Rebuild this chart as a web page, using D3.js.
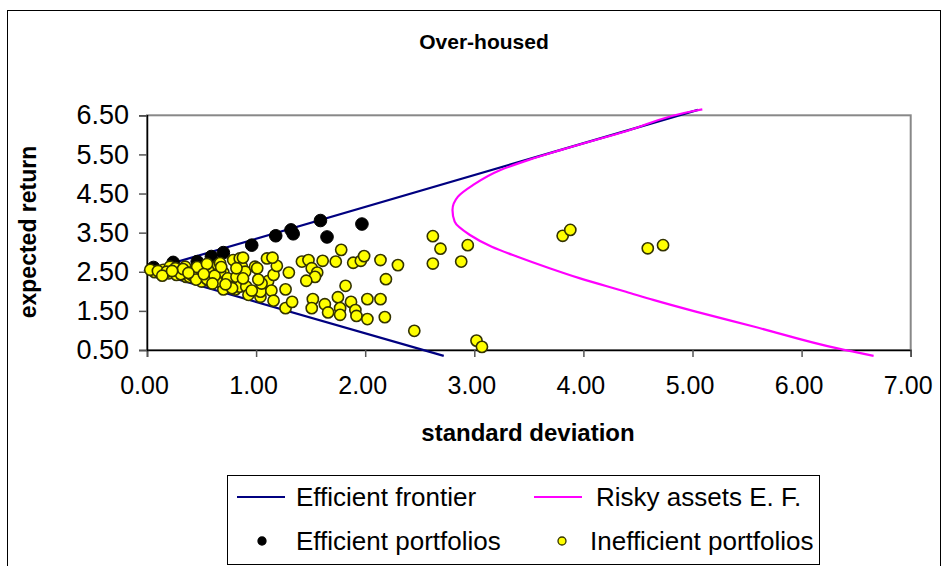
<!DOCTYPE html>
<html><head><meta charset="utf-8">
<script src="https://cdn.jsdelivr.net/npm/d3@7"></script>
<style>
html,body{margin:0;padding:0;background:#fff;}
svg{display:block;font-family:"Liberation Sans",Arial,sans-serif;}
</style></head>
<body>
<svg id="chart" width="945" height="566"></svg>
<script>
// ---- data ----
const chartTitle = "Over-housed";
const xTitle = "standard deviation";
const yTitle = "expected return";
const xTicks = [0,1,2,3,4,5,6,7];
const yTicks = [0.5,1.5,2.5,3.5,4.5,5.5,6.5];
const seriesNames = ["Efficient frontier","Risky assets E. F.","Efficient portfolios","Inefficient portfolios"];

// Efficient frontier (sd, return)
const frontierSd  = [2.72, 0.00, 5.05];
const frontierRet = [0.35, 2.53, 6.64];

// Risky assets efficient frontier (sd, return), ordered by return ascending
const riskySd  = [6.66,6.33,5.56,5.03,4.64,4.39,3.97,3.69,3.39,3.16,2.96,2.82,2.80,2.85,2.99,3.24,3.50,3.79,4.40,5.01,5.09];
const riskyRet = [0.35,0.54,1.10,1.48,1.78,1.99,2.33,2.59,2.89,3.14,3.44,3.78,4.08,4.42,4.72,5.10,5.36,5.61,6.10,6.61,6.65];

// Efficient portfolios
const effSd  = [0.06,0.24,0.46,0.59,0.70,0.96,1.18,1.32,1.34,1.59,1.65,1.97];
const effRet = [2.61,2.74,2.76,2.89,2.99,3.18,3.42,3.57,3.47,3.81,3.39,3.72];

// Inefficient portfolios
const ineffSd  = [0.07,0.03,0.15,0.21,0.20,0.27,0.26,0.35,0.36,0.42,0.47,0.50,0.56,0.58,0.61,0.65,0.70,0.67,0.74,0.79,
                  0.85,0.87,0.90,0.82,0.75,0.81,0.85,0.91,0.70,0.78,0.93,0.99,1.01,1.04,1.10,1.04,0.53,0.39,0.32,0.12,
                  0.27,0.64,0.67,0.50,0.88,0.82,1.11,1.16,1.19,1.15,0.88,1.30,1.14,1.27,1.16,1.27,1.33,1.42,1.48,1.51,
                  1.56,1.54,1.46,1.61,1.73,1.78,1.89,1.96,1.99,2.14,2.30,2.19,1.82,1.75,1.52,1.51,1.63,1.66,1.77,1.77,
                  1.87,1.91,1.92,2.02,2.14,2.02,2.18,2.45,2.62,2.69,2.62,2.94,2.88,3.02,3.07,3.81,3.88,4.59,4.73,
                  0.10,0.18,0.31,0.41,0.45,0.55,0.62,0.72,0.60,0.96,1.05,0.46,0.33,0.55,0.14,0.23,0.38,0.52,0.68,1.02];
const ineffRet = [2.49,2.55,2.55,2.63,2.46,2.46,2.59,2.63,2.37,2.50,2.59,2.25,2.56,2.25,2.33,2.67,2.48,2.50,2.33,2.80,
                  2.84,2.63,2.50,2.37,2.12,2.05,2.12,2.12,2.05,2.08,1.91,2.63,2.59,1.86,2.84,1.99,2.37,2.37,2.50,2.46,
                  2.42,2.25,2.72,2.50,2.33,2.59,2.26,2.42,2.65,2.86,2.86,2.48,2.02,2.05,1.76,1.57,1.73,2.76,2.80,2.59,
                  2.48,2.37,2.27,2.78,2.76,3.06,2.73,2.78,2.90,2.80,2.67,2.31,2.14,1.85,1.80,1.57,1.67,1.46,1.57,1.40,
                  1.73,1.52,1.37,1.80,1.80,1.29,1.34,0.99,3.41,3.09,2.71,3.18,2.76,0.74,0.58,3.42,3.57,3.10,3.18,
                  2.52,2.50,2.44,2.42,2.30,2.31,2.40,2.18,2.20,2.02,2.20,2.62,2.57,2.70,2.40,2.52,2.47,2.44,2.62,2.30];

// ---- drawing ----
const svg = d3.select("#chart");
const x = d3.scaleLinear().domain([0,7]).range([147,910.7]);
const y = d3.scaleLinear().domain([0.5,6.5]).range([350,115.3]);

// outer frame
svg.append("rect").attr("x",7.5).attr("y",10.5).attr("width",933).attr("height",600)
  .attr("fill","none").attr("stroke","#000").attr("stroke-width",1);

// title
svg.append("text").attr("x",484).attr("y",49).attr("text-anchor","middle")
  .attr("font-weight","bold").attr("font-size",21).text(chartTitle);

// plot area border
svg.append("rect").attr("x",147).attr("y",115.3).attr("width",763.7).attr("height",234.7)
  .attr("fill","none").attr("stroke","#888").attr("stroke-width",2);

// axes
const xAxis = d3.axisBottom(x).tickValues(xTicks).tickFormat(d3.format(".2f")).tickSize(7).tickPadding(19);
const yAxis = d3.axisLeft(y).tickValues(yTicks).tickFormat(d3.format(".2f")).tickSize(8).tickPadding(10);
const gx = svg.append("g").attr("transform","translate(0,350)").call(xAxis);
const gy = svg.append("g").attr("transform","translate(147,0)").call(yAxis);
[gx,gy].forEach(g=>{
  g.select(".domain").attr("stroke","#000").attr("stroke-width",1.5);
  g.selectAll(".tick line").attr("stroke","#555").attr("stroke-width",1.5);
  g.selectAll(".tick text").attr("font-family","'Liberation Sans',Arial,sans-serif").attr("fill","#000");
});
gy.selectAll(".tick text").attr("font-size",27);
gx.selectAll(".tick text").attr("font-size",25).attr("dx",-3);

// axis titles
svg.append("text").attr("x",528).attr("y",441).attr("text-anchor","middle")
  .attr("font-weight","bold").attr("font-size",24).text(xTitle);
svg.append("text").attr("transform","translate(36,232) rotate(-90)").attr("text-anchor","middle")
  .attr("font-weight","bold").attr("font-size",23).text(yTitle);

// lines
const frontier = frontierSd.map((s,i)=>[s,frontierRet[i]]);
const risky = riskySd.map((s,i)=>[s,riskyRet[i]]);
svg.append("path").datum(frontier)
  .attr("d",d3.line().x(d=>x(d[0])).y(d=>y(d[1])))
  .attr("fill","none").attr("stroke","#000080").attr("stroke-width",2.2);
svg.append("path").datum(risky)
  .attr("d",d3.line().x(d=>x(d[0])).y(d=>y(d[1])).curve(d3.curveMonotoneY))
  .attr("fill","none").attr("stroke","#ff00ff").attr("stroke-width",2.2);

// points
const eff = effSd.map((s,i)=>[s,effRet[i]]);
const ineff = ineffSd.map((s,i)=>[s,ineffRet[i]]);
svg.append("g").selectAll("circle").data(eff).join("circle")
  .attr("cx",d=>x(d[0])).attr("cy",d=>y(d[1])).attr("r",6.3)
  .attr("fill","#000").attr("stroke","#000");
svg.append("g").selectAll("circle").data(ineff).join("circle")
  .attr("cx",d=>x(d[0])).attr("cy",d=>y(d[1])).attr("r",5.6)
  .attr("fill","#ffff00").attr("stroke","#333300").attr("stroke-width",1.6);

// legend
const lg = svg.append("g");
lg.append("rect").attr("x",227.5).attr("y",475.5).attr("width",592).attr("height",89)
  .attr("fill","#fff").attr("stroke","#000");
const items = [
  {name:seriesNames[0], type:"line", color:"#000080", sx:237, tx:296, cy:497},
  {name:seriesNames[1], type:"line", color:"#ff00ff", sx:534, tx:596, cy:497},
  {name:seriesNames[2], type:"dot", fill:"#000", stroke:"#000", sx:262, tx:296, cy:541},
  {name:seriesNames[3], type:"dot", fill:"#ffff00", stroke:"#333300", sx:562, tx:590, cy:541}
];
items.forEach(it=>{
  if(it.type==="line"){
    lg.append("line").attr("x1",it.sx).attr("x2",it.sx+48).attr("y1",it.cy).attr("y2",it.cy)
      .attr("stroke",it.color).attr("stroke-width",2);
  } else {
    lg.append("circle").attr("cx",it.sx).attr("cy",it.cy).attr("r",4)
      .attr("fill",it.fill).attr("stroke",it.stroke).attr("stroke-width",1.3);
  }
  lg.append("text").attr("x",it.tx).attr("y",it.cy).attr("dy","0.35em")
    .attr("font-size",26).text(it.name);
});
</script>
</body></html>
